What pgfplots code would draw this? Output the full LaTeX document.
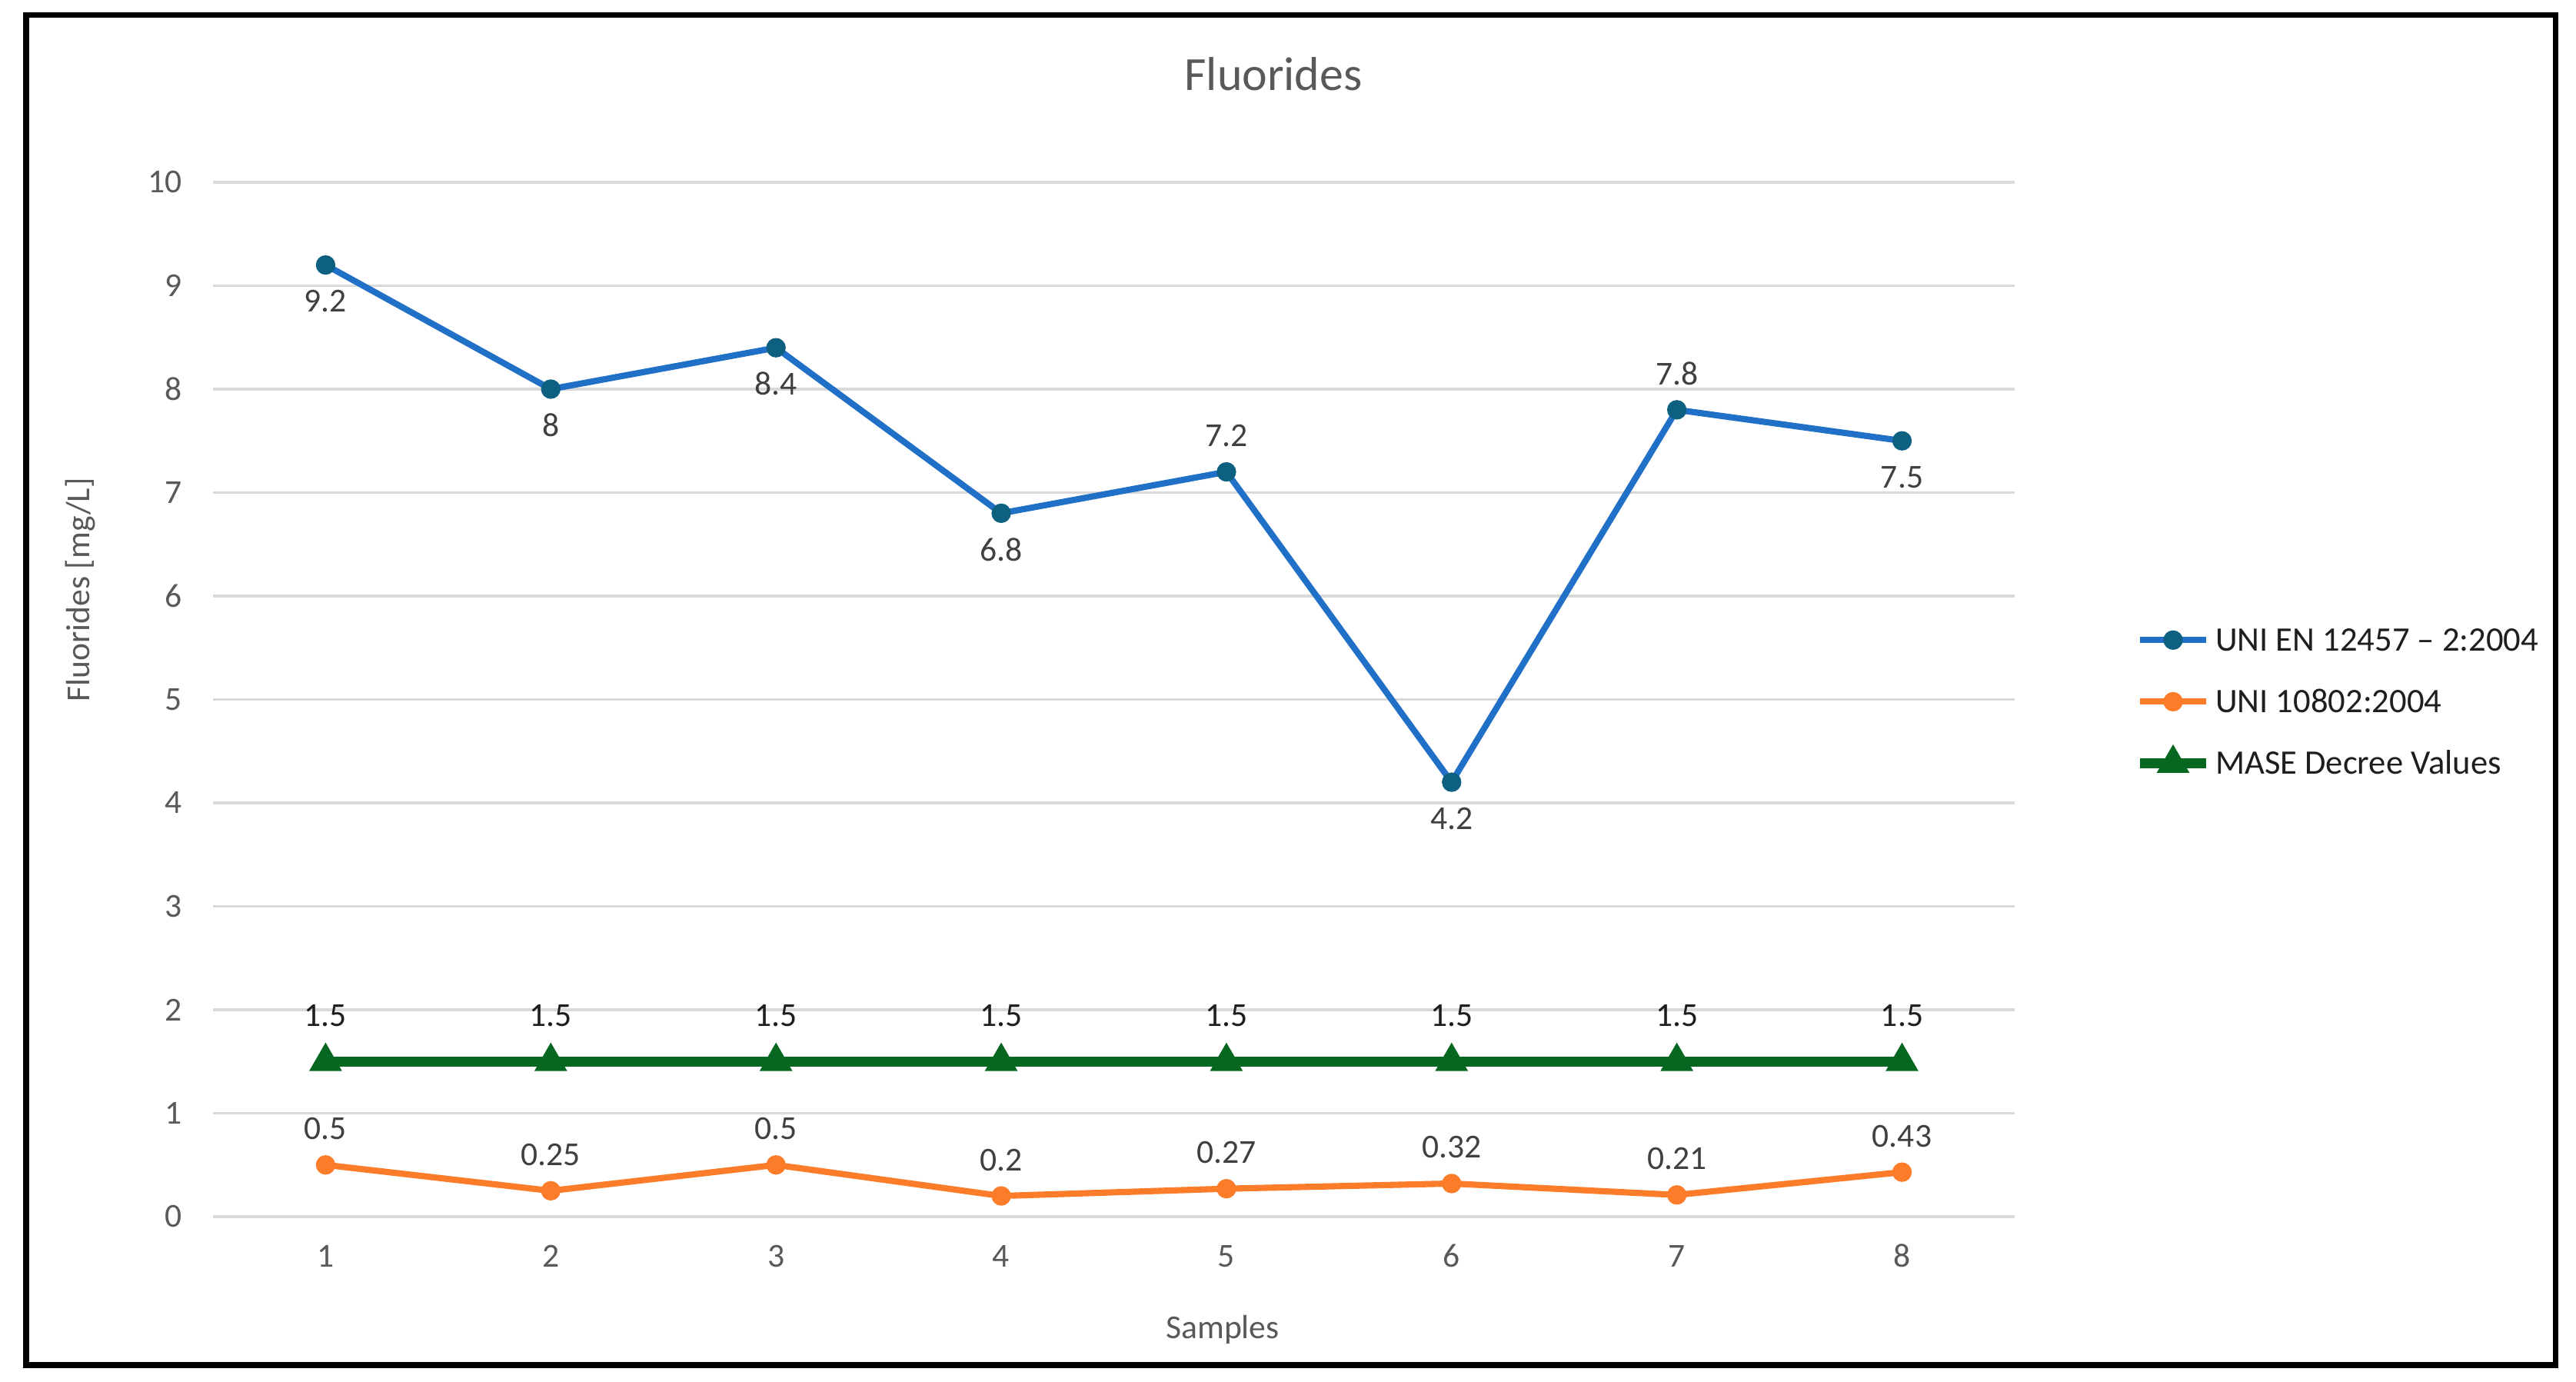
\documentclass[border=0pt]{standalone}
\usepackage{pgfplots}
\pgfplotsset{compat=1.18}
\usepackage{pgfplotstable}
\usepackage{fontspec}
\setmainfont{Carlito}
\definecolor{cblue}{RGB}{32,112,200}
\definecolor{cbluem}{RGB}{14,96,128}
\definecolor{corange}{RGB}{252,124,42}
\definecolor{cgreen}{RGB}{6,104,32}
\definecolor{cgrid}{RGB}{217,217,217}
\definecolor{ctick}{RGB}{89,89,89}
\definecolor{clab}{RGB}{64,64,64}
\definecolor{cleg}{RGB}{30,30,30}

\pgfplotstableread{
x y pos lab
1 9.2 -1 9.2
2 8 -1 8
3 8.4 -1 8.4
4 6.8 -1 6.8
5 7.2 1 7.2
6 4.2 -1 4.2
7 7.8 1 7.8
8 7.5 -1 7.5
}\bluedata
\pgfplotstableread{
x y lab
1 0.5 0.5
2 0.25 0.25
3 0.5 0.5
4 0.2 0.2
5 0.27 0.27
6 0.32 0.32
7 0.21 0.21
8 0.43 0.43
}\orangedata
\pgfplotstableread{
x y lab
1 1.5 1.5
2 1.5 1.5
3 1.5 1.5
4 1.5 1.5
5 1.5 1.5
6 1.5 1.5
7 1.5 1.5
8 1.5 1.5
}\greendata

\newcommand{\sfont}{\fontsize{6.2}{7.4}\selectfont}
\newcommand{\lfont}{\fontsize{6.35}{7.6}\selectfont}

\begin{document}
\begin{tikzpicture}
\useasboundingbox (0,0) rectangle (16.75cm,8.985cm);
\fill[white] (0,0) rectangle (16.75cm,8.985cm);
\draw[black, line width=1pt] (0.17cm,0.11cm) rectangle (16.615cm,8.885cm);
\begin{axis}[
  at={(1.385cm,1.075cm)}, anchor=south west,
  scale only axis, width=11.715cm, height=6.725cm,
  xmin=0.5, xmax=8.5, ymin=0, ymax=10,
  xtick={1,...,8}, ytick={0,...,10},
  /pgf/number format/assume math mode=true,
  axis line style={draw=none},
  major tick length=0pt,
  ymajorgrids, grid style={cgrid, line width=0.45pt},
  clip=false,
  tick label style={font=\sfont, text=ctick, inner sep=0pt},
  xticklabel style={anchor=base, yshift=-0.33cm},
  yticklabel style={anchor=east, xshift=-0.195cm},
  xlabel={Samples},
  xlabel style={font=\sfont, text=ctick, at={(axis description cs:0.5604,-0.1175)}, anchor=base, inner sep=0pt},
  ylabel={Fluorides [mg/L]},
  ylabel style={font=\sfont, text=ctick, at={(axis description cs:-0.0683,0.606)}, anchor=base, rotate=0, inner sep=0pt},
  title={Fluorides},
  title style={font=\fontsize{8.8}{10}\selectfont, text=ctick, at={(axis description cs:0.5886,1.0885)}, anchor=base, yshift=-6pt, inner sep=0pt},
  legend style={draw=none, fill=none, at={(axis description cs:1.0696,0.4978)}, anchor=west, inner sep=0pt, outer sep=0pt, font=\lfont, text=cleg, row sep=7.4pt, nodes={inner sep=0pt, text height=4pt, text depth=0pt}, /tikz/every odd column/.append style={column sep=0.06cm}},
  legend cell align=left,
  legend image code/.code={\draw[mark repeat=2,mark phase=2,#1,overlay] plot coordinates {(0cm,0pt) (0.215cm,0pt) (0.43cm,0pt)};
    \path[draw=none,fill=none] (0cm,-2pt) rectangle (0.43cm,2pt);},
]
\addplot[cblue, line width=1.15pt, mark=*, mark size=1.7pt,
  mark options={solid, fill=cbluem, draw=cbluem, line width=0.2pt},
  nodes near coords, point meta=explicit symbolic,
  visualization depends on={\thisrow{pos} \as \labpos},
  every node near coord/.append style={anchor=center, yshift=\labpos*0.235cm, font=\sfont, text=clab, inner sep=0pt}]
  table[x=x, y=y, meta=lab] {\bluedata};
\addlegendentry{UNI EN 12457 -- 2:2004}
\addplot[corange, line width=1.15pt, mark=*, mark size=1.7pt,
  mark options={solid, fill=corange, draw=corange, line width=0.2pt},
  nodes near coords, point meta=explicit symbolic,
  every node near coord/.append style={anchor=center, yshift=0.235cm, font=\sfont, text=clab, inner sep=0pt}]
  table[x=x, y=y, meta=lab] {\orangedata};
\addlegendentry{UNI 10802:2004}
\addplot[cgreen, line width=1.85pt, mark=triangle*, mark size=3.3pt,
  mark options={solid, fill=cgreen, draw=cgreen, line width=0.2pt},
  nodes near coords, point meta=explicit symbolic,
  every node near coord/.append style={anchor=center, yshift=0.3cm, font=\sfont, text=cleg, inner sep=0pt}]
  table[x=x, y=y, meta=lab] {\greendata};
\addlegendentry{MASE Decree Values}
\end{axis}
\end{tikzpicture}
\end{document}
